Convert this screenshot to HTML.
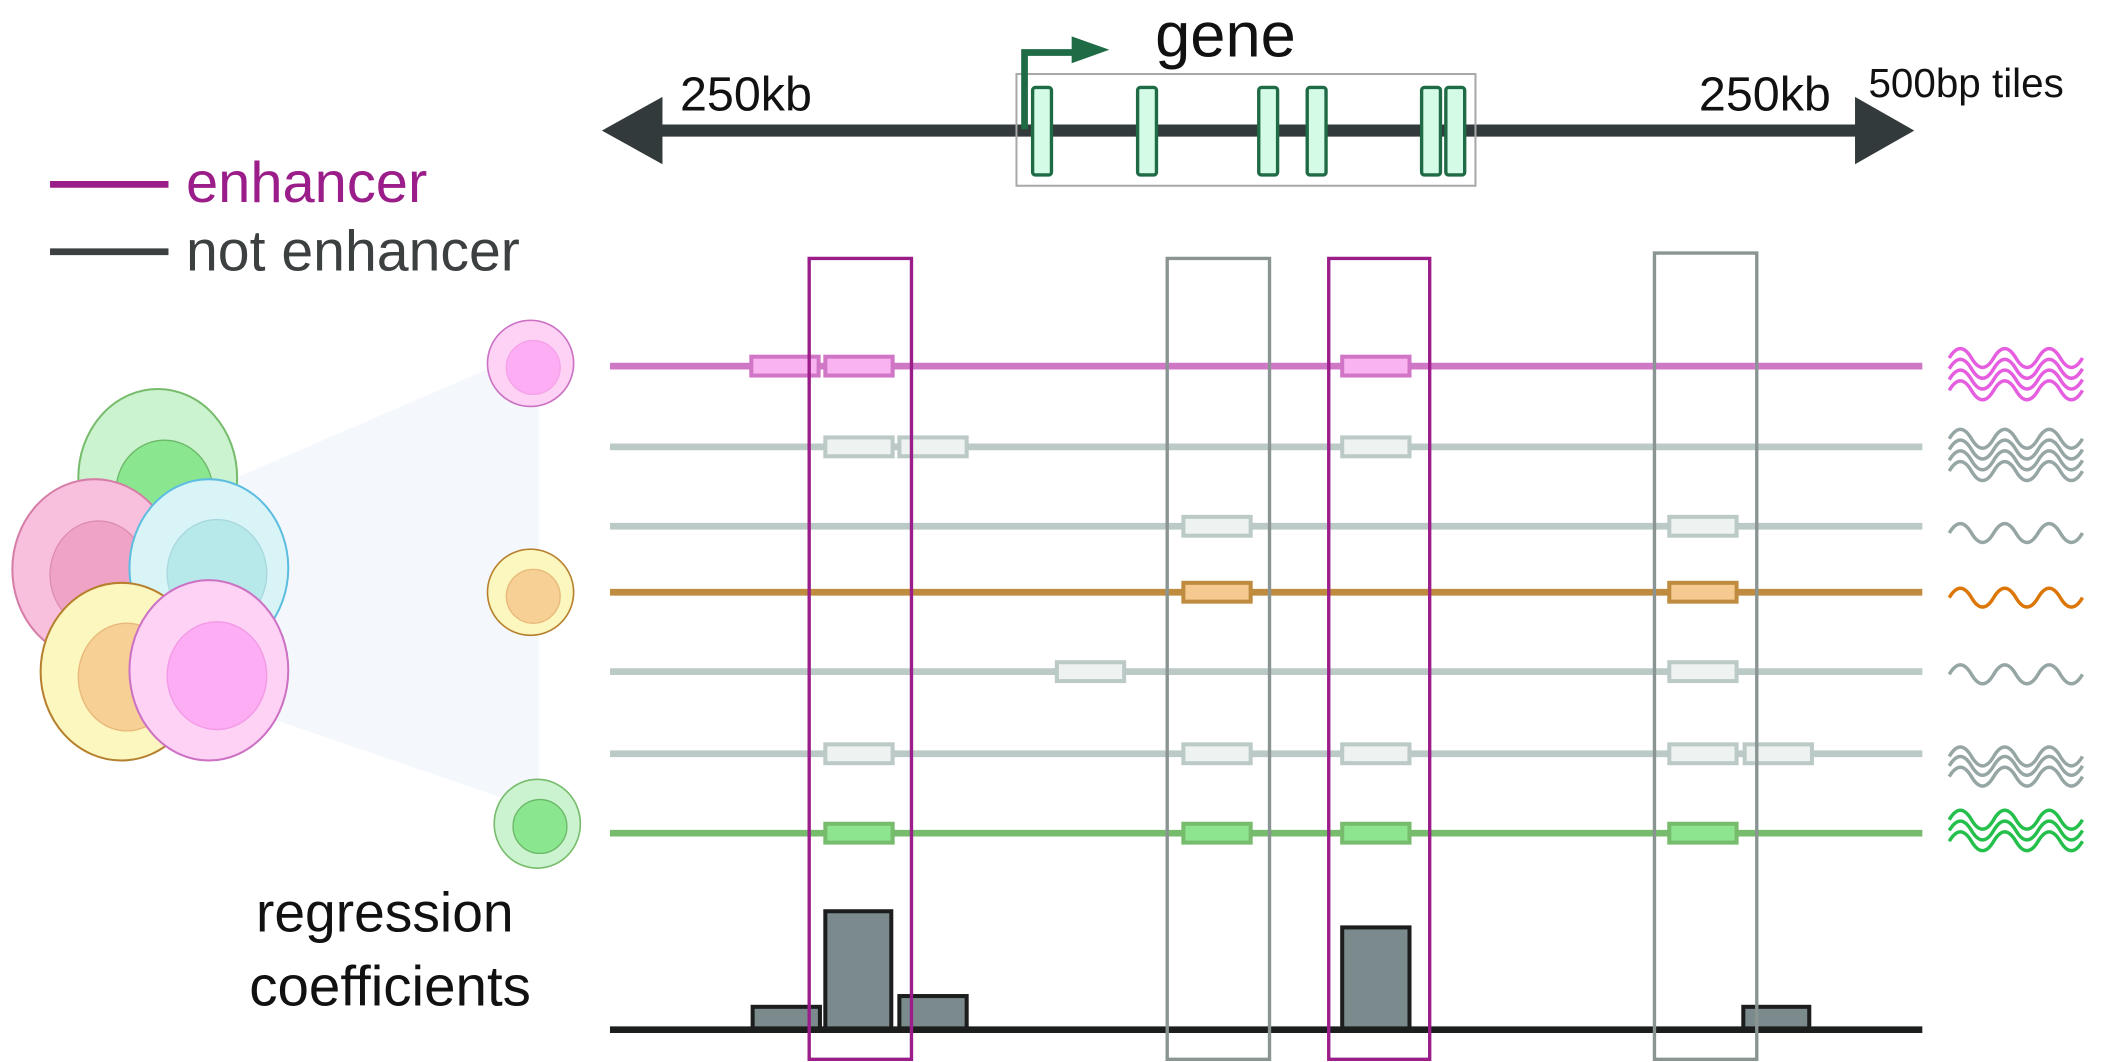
<!DOCTYPE html>
<html><head><meta charset="utf-8"><style>
html,body{margin:0;padding:0;background:#fff;}
svg{display:block}
text{font-family:"Liberation Sans",sans-serif;}
</style></head><body>
<svg width="2111" height="1062" viewBox="0 0 1568 789" xmlns="http://www.w3.org/2000/svg">
<defs>
<path id="wv" d="M0,0 q8.25,-14 16.5,0 t16.5,0 t16.5,0 t16.5,0 t16.5,0 t16.5,0" fill="none" stroke-width="2.6"/>
</defs>
<line x1="480" y1="97" x2="1390" y2="97" stroke="#333a3b" stroke-width="9"/>
<polygon points="447,97 492,72 492,122" fill="#333a3b"/>
<polygon points="1422,97 1378,72 1378,122" fill="#333a3b"/>
<rect x="755" y="55" width="341" height="83" fill="none" stroke="#a8a8a8" stroke-width="1.5"/>
<g fill="#d4fbe6" stroke="#1f6b45" stroke-width="2.5">
<rect x="767" y="65" width="14" height="65" rx="2"/>
<rect x="845" y="65" width="14" height="65" rx="2"/>
<rect x="935" y="65" width="14" height="65" rx="2"/>
<rect x="971" y="65" width="14" height="65" rx="2"/>
<rect x="1056" y="65" width="14" height="65" rx="2"/>
<rect x="1074" y="65" width="14" height="65" rx="2"/>
</g>
<path d="M761,96 V39 H800" fill="none" stroke="#1f6b45" stroke-width="5"/>
<polygon points="796,27 824,37 796,47" fill="#1f6b45"/>
<text x="858" y="42" font-size="47" fill="#111">gene</text>
<text x="505" y="82" font-size="36" fill="#111">250kb</text>
<text x="1262" y="82" font-size="36" fill="#111">250kb</text>
<text x="1388" y="72" font-size="30" fill="#111">500bp tiles</text>
<line x1="37" y1="137" x2="125" y2="137" stroke="#9b1d8a" stroke-width="5"/>
<text x="138" y="150" font-size="43" fill="#9b1d8a">enhancer</text>
<line x1="37" y1="187" x2="125" y2="187" stroke="#3c4041" stroke-width="5"/>
<text x="138" y="201" font-size="42.5" fill="#3c4041">not enhancer</text>
<polygon points="175,355 400,258 400,602 190,530" fill="#f4f8fd"/>
<ellipse cx="117" cy="355" rx="59" ry="66" fill="#ccf3cf" stroke="#77bc6c" stroke-width="1.5"/>
<ellipse cx="122" cy="365" rx="36" ry="38" fill="#8be78f" stroke="#6cb86a" stroke-width="1"/>
<ellipse cx="70" cy="423" rx="61" ry="67" fill="#f9c0de" stroke="#d57da6" stroke-width="1.5"/>
<ellipse cx="73" cy="427" rx="36" ry="40" fill="#efa3c6" stroke="#dc8db1" stroke-width="1"/>
<ellipse cx="155" cy="422" rx="59" ry="66" fill="#d9f4f6" stroke="#5dbde0" stroke-width="1.5"/>
<ellipse cx="161" cy="426" rx="37" ry="40" fill="#b8e9ea" stroke="#a7d8de" stroke-width="1"/>
<ellipse cx="90" cy="499" rx="60" ry="66" fill="#fcf6bf" stroke="#b6802f" stroke-width="1.5"/>
<ellipse cx="94" cy="503" rx="36" ry="40" fill="#f6d095" stroke="#e8b97a" stroke-width="1"/>
<ellipse cx="155" cy="498" rx="59" ry="67" fill="#fdd2f5" stroke="#cc71c3" stroke-width="1.5"/>
<ellipse cx="161" cy="502" rx="37" ry="40" fill="#fcadf3" stroke="#f39ae6" stroke-width="1"/>
<ellipse cx="394" cy="270" rx="32" ry="32" fill="#fdd2f5" stroke="#cc71c3" stroke-width="1.2"/>
<ellipse cx="396" cy="273" rx="20" ry="20" fill="#fcadf3" stroke="#f5a2e9"/>
<ellipse cx="394" cy="440" rx="32" ry="32" fill="#fcf6bf" stroke="#b6802f" stroke-width="1.2"/>
<ellipse cx="396" cy="443" rx="20" ry="20" fill="#f6d095" stroke="#e8b97a"/>
<ellipse cx="399" cy="612" rx="32" ry="33" fill="#ccf3cf" stroke="#77bc6c" stroke-width="1.2"/>
<ellipse cx="401" cy="614" rx="20" ry="20" fill="#8be78f" stroke="#6cb86a"/>
<g stroke-width="5">
<line x1="453" y1="272" x2="1428" y2="272" stroke="#cf78c6"/>
<line x1="453" y1="332" x2="1428" y2="332" stroke="#bbc9c7"/>
<line x1="453" y1="391" x2="1428" y2="391" stroke="#bbc9c7"/>
<line x1="453" y1="440" x2="1428" y2="440" stroke="#bf8b3f"/>
<line x1="453" y1="499" x2="1428" y2="499" stroke="#bbc9c7"/>
<line x1="453" y1="560" x2="1428" y2="560" stroke="#bbc9c7"/>
<line x1="453" y1="619" x2="1428" y2="619" stroke="#77bb6d"/>
</g>
<g stroke-width="3">
<g fill="#f9b3f0" stroke="#d176c6">
<rect x="558" y="265" width="50" height="14"/><rect x="613" y="265" width="50" height="14"/><rect x="997" y="265" width="50" height="14"/>
</g>
<g fill="#eef2f1" stroke="#bbc9c7">
<rect x="613" y="325" width="50" height="14"/><rect x="668" y="325" width="50" height="14"/><rect x="997" y="325" width="50" height="14"/>
<rect x="879" y="384" width="50" height="14"/><rect x="1240" y="384" width="50" height="14"/>
<rect x="785" y="492" width="50" height="14"/><rect x="1240" y="492" width="50" height="14"/>
<rect x="613" y="553" width="50" height="14"/><rect x="879" y="553" width="50" height="14"/><rect x="997" y="553" width="50" height="14"/><rect x="1240" y="553" width="50" height="14"/><rect x="1296" y="553" width="50" height="14"/>
</g>
<g fill="#f6c990" stroke="#bf8b3f">
<rect x="879" y="433" width="50" height="14"/><rect x="1240" y="433" width="50" height="14"/>
</g>
<g fill="#8ee58f" stroke="#77bb6d">
<rect x="613" y="612" width="50" height="14"/><rect x="879" y="612" width="50" height="14"/><rect x="997" y="612" width="50" height="14"/><rect x="1240" y="612" width="50" height="14"/>
</g>
</g>
<g stroke="#e55ee0"><use href="#wv" x="1448" y="266"/><use href="#wv" x="1448" y="274"/><use href="#wv" x="1448" y="282"/><use href="#wv" x="1448" y="290"/></g>
<g stroke="#96a6a4"><use href="#wv" x="1448" y="326"/><use href="#wv" x="1448" y="334"/><use href="#wv" x="1448" y="342"/><use href="#wv" x="1448" y="350"/></g>
<g stroke="#96a6a4"><use href="#wv" x="1448" y="396"/><use href="#wv" x="1448" y="501"/>
<use href="#wv" x="1448" y="562"/><use href="#wv" x="1448" y="569"/><use href="#wv" x="1448" y="577"/></g>
<use href="#wv" x="1448" y="444" stroke="#db7607"/>
<g stroke="#25c04c"><use href="#wv" x="1448" y="609"/><use href="#wv" x="1448" y="617"/><use href="#wv" x="1448" y="625"/></g>
<g fill="#7b8a8c" stroke="#1c1d1d" stroke-width="3">
<rect x="559" y="748" width="50" height="17"/>
<rect x="613" y="677" width="49" height="88"/>
<rect x="668" y="740" width="50" height="25"/>
<rect x="997" y="689" width="50" height="76"/>
<rect x="1295" y="748" width="49" height="17"/>
</g>
<line x1="453" y1="765" x2="1428" y2="765" stroke="#1c1d1d" stroke-width="5"/>
<text x="190" y="692" font-size="41" fill="#111">regression</text>
<text x="185" y="747" font-size="42" fill="#111">coefficients</text>
<g fill="none" stroke-width="2.5">
<rect x="601" y="192" width="76" height="595" stroke="#9b1d8a"/>
<rect x="867" y="192" width="76" height="595" stroke="#8a9493"/>
<rect x="987" y="192" width="75" height="595" stroke="#9b1d8a"/>
<rect x="1229" y="188" width="76" height="599" stroke="#8a9493"/>
</g>
</svg>
</body></html>
